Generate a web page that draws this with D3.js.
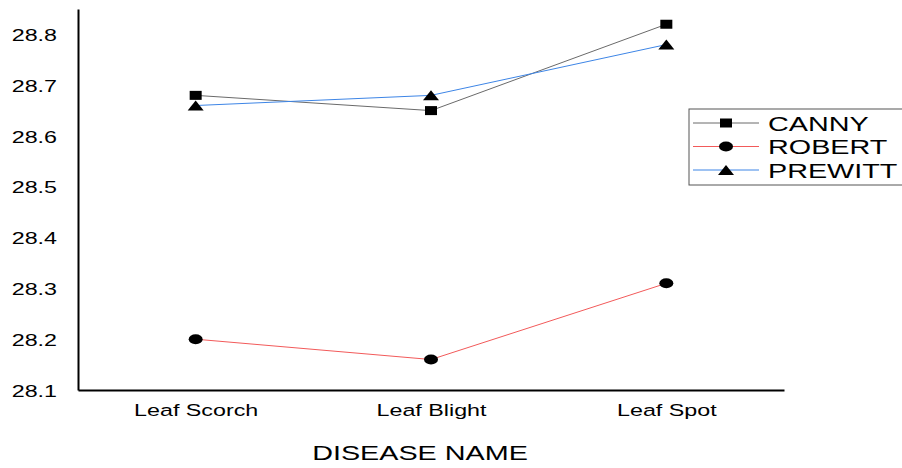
<!DOCTYPE html>
<html>
<head>
<meta charset="utf-8">
<script src="https://cdn.jsdelivr.net/npm/d3@7"></script>
<style>
  body { margin: 0; background: #fff; }
  text { font-family: "Liberation Sans", Arial, sans-serif; fill: #000; }
</style>
</head>
<body>
<div id="chart"></div>
<script>
// chart data
var categories = ["Leaf Scorch", "Leaf Blight", "Leaf Spot"];
var seriesNames = ["CANNY", "ROBERT", "PREWITT"];
var cannyValues = [28.68, 28.65, 28.82];
var robertValues = [28.20, 28.16, 28.31];
var prewittValues = [28.66, 28.68, 28.78];
var yTicks = [28.1, 28.2, 28.3, 28.4, 28.5, 28.6, 28.7, 28.8];

var svgWidth = 902, svgHeight = 468;
var margin = { top: 9, right: 118, bottom: 78, left: 78 };
var width = svgWidth - margin.left - margin.right;
var height = svgHeight - margin.top - margin.bottom;

// the original text is drawn wide, stretch it horizontally
var stretch = 1.37;

var svg = d3.select("#chart").append("svg")
  .attr("width", svgWidth)
  .attr("height", svgHeight);

var chartGroup = svg.append("g")
  .attr("transform", `translate(${margin.left}, ${margin.top})`);

var xScale = d3.scalePoint()
  .domain(categories)
  .range([0, width])
  .padding(0.5);

var yScale = d3.scaleLinear()
  .domain([28.1, 28.85])
  .range([height, 0]);

// axes, no tick marks
var bottomAxis = d3.axisBottom(xScale).tickSize(0).tickPadding(14);
var leftAxis = d3.axisLeft(yScale).tickValues(yTicks).tickSize(0)
  .tickFormat(d3.format(".1f"));

var xAxis = chartGroup.append("g")
  .attr("transform", `translate(0, ${height})`)
  .call(bottomAxis);
var yAxis = chartGroup.append("g").call(leftAxis);

[xAxis, yAxis].forEach(function(ax) {
  ax.select(".domain").attr("stroke", "#000").attr("stroke-width", 2);
  ax.selectAll("text")
    .style("font-family", "'Liberation Sans', Arial, sans-serif")
    .style("font-size", "17px")
    .attr("fill", "#000")
    .attr("transform", `scale(${stretch},1)`);
});
yAxis.selectAll("text").attr("x", -21 / stretch).attr("dy", "0.36em");

// x axis title
svg.append("text")
  .attr("transform", `translate(420,460) scale(${stretch},1)`)
  .attr("text-anchor", "middle")
  .style("font-size", "21px")
  .text("DISEASE NAME");

var series = [
  { name: seriesNames[0], values: cannyValues, color: "#6a6a6a", marker: "square" },
  { name: seriesNames[1], values: robertValues, color: "#f25a5a", marker: "circle" },
  { name: seriesNames[2], values: prewittValues, color: "#3d85e6", marker: "triangle" }
];

function drawMarker(g, type, x, y) {
  if (type === "square") {
    g.append("rect").attr("x", x - 6).attr("y", y - 4.5)
      .attr("width", 12).attr("height", 9).attr("fill", "#000");
  } else if (type === "circle") {
    g.append("ellipse").attr("cx", x).attr("cy", y)
      .attr("rx", 7).attr("ry", 5).attr("fill", "#000");
  } else {
    g.append("path")
      .attr("d", `M${x - 8},${y + 5}L${x + 8},${y + 5}L${x},${y - 5}Z`)
      .attr("fill", "#000");
  }
}

var line = d3.line()
  .x((d, i) => xScale(categories[i]))
  .y(d => yScale(d));

series.forEach(function(s) {
  chartGroup.append("path")
    .datum(s.values)
    .attr("d", line)
    .attr("fill", "none")
    .attr("stroke", s.color)
    .attr("stroke-width", 1);
});
series.forEach(function(s) {
  var mg = chartGroup.append("g");
  s.values.forEach(function(v, i) {
    drawMarker(mg, s.marker, xScale(categories[i]), yScale(v));
  });
});

// legend
var legend = svg.append("g").attr("transform", "translate(689, 109)");
legend.append("rect")
  .attr("x", 0).attr("y", 0)
  .attr("width", 240).attr("height", 76)
  .attr("fill", "#fff")
  .attr("stroke", "#555")
  .attr("stroke-width", 1);

series.forEach(function(s, i) {
  var y = 14 + i * 23.5;
  legend.append("line")
    .attr("x1", 4).attr("x2", 70)
    .attr("y1", y).attr("y2", y)
    .attr("stroke", s.color)
    .attr("stroke-width", 1);
  drawMarker(legend, s.marker, 37, y);
  legend.append("text")
    .attr("transform", `translate(79,${y}) scale(${stretch},1)`)
    .attr("dy", "0.36em")
    .style("font-size", "21px")
    .text(s.name);
});
</script>
</body>
</html>
